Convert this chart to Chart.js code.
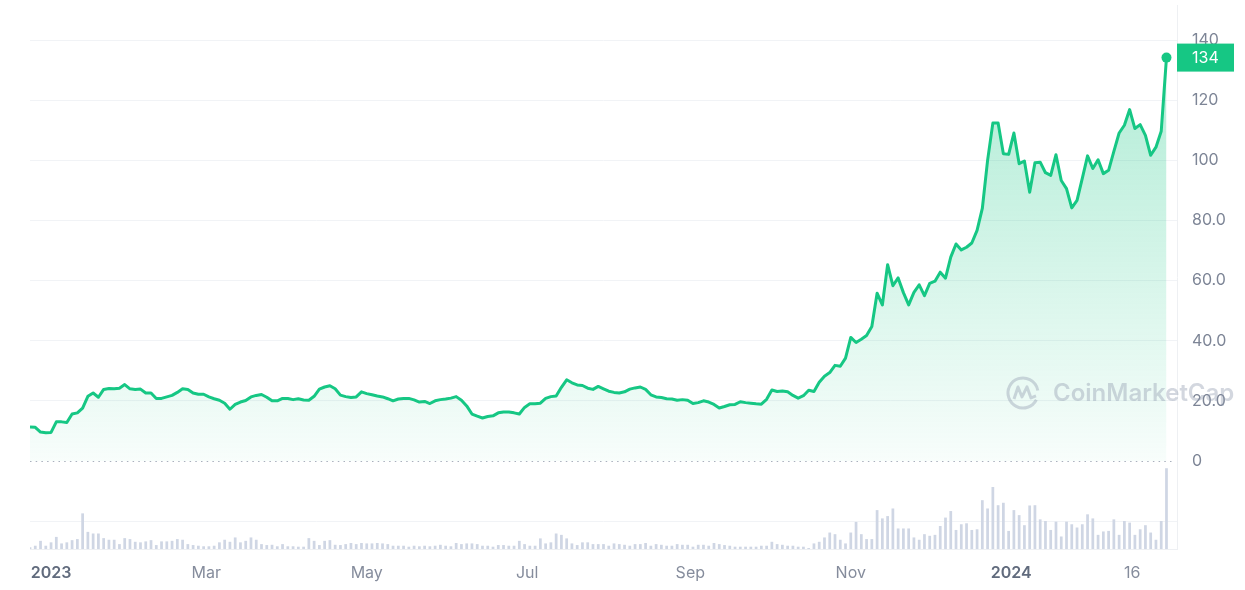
<!DOCTYPE html>
<html>
<head>
<meta charset="utf-8">
<script src="https://cdn.jsdelivr.net/npm/chart.js@4.4.1/dist/chart.umd.min.js"></script>
<style>
  html, body { margin: 0; padding: 0; background: #fff; }
  #wrap { width: 1245px; height: 590px; }
</style>
</head>
<body>
<div id="wrap"><canvas id="priceChart" width="1245" height="590"></canvas></div>
<script>
// days counted from 1 Jan 2023, one sample every 2 days
const startDay = -8;
const stepDays = 2;

// price in USD
const price = [
  11.3, 11.2, 9.6, 9.4, 9.5, 13.0, 13.0, 12.8, 15.6, 16.0,
  17.6, 21.5, 22.6, 21.2, 23.8, 24.1, 24.0, 24.2, 25.4, 24.0,
  23.8, 23.9, 22.6, 22.6, 20.8, 20.8, 21.3, 21.8, 22.8, 24.0,
  23.8, 22.6, 22.2, 22.2, 21.3, 20.7, 20.2, 19.2, 17.2, 18.8,
  19.6, 20.1, 21.3, 21.8, 22.1, 21.2, 20.0, 20.0, 20.8, 20.8,
  20.4, 20.7, 20.3, 20.2, 21.5, 23.9, 24.6, 25.0, 24.0, 21.9,
  21.4, 21.1, 21.3, 23.0, 22.4, 22.0, 21.6, 21.3, 20.7, 20.0,
  20.6, 20.8, 20.8, 20.3, 19.6, 19.8, 19.1, 20.0, 20.4, 20.6,
  20.9, 21.4, 20.2, 18.3, 15.6, 14.9, 14.3, 14.8, 15.0, 16.0,
  16.3, 16.3, 16.0, 15.6, 17.8, 19.0, 19.0, 19.2, 20.8, 21.4,
  21.6, 24.5, 27.0, 26.0, 25.3, 25.1, 24.2, 23.8, 24.8, 24.0,
  23.2, 22.8, 22.6, 23.0, 23.9, 24.3, 24.6, 23.8, 22.0, 21.3,
  21.1, 20.7, 20.6, 20.2, 20.4, 20.2, 19.1, 19.4, 20.0, 19.6,
  18.8, 17.6, 18.1, 18.7, 18.8, 19.7, 19.4, 19.2, 19.0, 18.9,
  20.5, 23.6, 23.1, 23.3, 23.0, 21.8, 20.9, 21.7, 23.5, 23.1,
  26.2, 28.2, 29.4, 31.8, 31.5, 34.2, 41.1, 39.4, 40.5, 41.7,
  44.7, 55.8, 51.9, 65.3, 58.3, 60.9, 56.0, 51.9, 56.1, 58.6,
  55.0, 59.1, 59.8, 62.8, 60.8, 67.8, 72.2, 70.2, 71.1, 72.5,
  76.7, 84.0, 100.0, 112.4, 112.4, 102.2, 102.0, 109.1, 98.9, 99.8,
  89.4, 99.2, 99.4, 95.9, 95.0, 101.9, 93.3, 90.6, 84.2, 86.7,
  94.0, 101.5, 97.3, 100.2, 95.6, 96.7, 103.0, 109.1, 111.7, 116.9,
  110.6, 111.9, 108.3, 101.7, 104.4, 109.7, 134.2
];

// traded volume, USD bn
const volume = [
  0.12, 0.24, 0.60, 0.24, 0.49, 0.89, 0.41, 0.49, 0.65, 0.73,
  2.62, 1.26, 1.14, 1.14, 0.80, 0.68, 0.68, 0.36, 0.80, 0.73,
  0.53, 0.49, 0.56, 0.65, 0.29, 0.56, 0.56, 0.60, 0.73, 0.68,
  0.36, 0.29, 0.24, 0.20, 0.20, 0.24, 0.49, 0.68, 0.53, 0.85,
  0.49, 0.60, 0.85, 0.68, 0.36, 0.29, 0.31, 0.20, 0.36, 0.20,
  0.20, 0.17, 0.17, 0.80, 0.60, 0.29, 0.60, 0.65, 0.31, 0.29,
  0.36, 0.44, 0.36, 0.44, 0.41, 0.41, 0.44, 0.41, 0.36, 0.24,
  0.24, 0.24, 0.17, 0.24, 0.20, 0.24, 0.20, 0.24, 0.31, 0.24,
  0.20, 0.44, 0.36, 0.41, 0.41, 0.36, 0.24, 0.24, 0.17, 0.29,
  0.29, 0.24, 0.24, 0.60, 0.36, 0.24, 0.24, 0.78, 0.41, 0.49,
  1.14, 1.04, 0.78, 0.41, 0.29, 0.49, 0.49, 0.36, 0.36, 0.36,
  0.24, 0.41, 0.36, 0.31, 0.24, 0.36, 0.36, 0.44, 0.24, 0.36,
  0.31, 0.24, 0.24, 0.36, 0.31, 0.31, 0.17, 0.31, 0.31, 0.24,
  0.44, 0.36, 0.29, 0.24, 0.17, 0.17, 0.17, 0.17, 0.17, 0.24,
  0.24, 0.53, 0.36, 0.31, 0.24, 0.24, 0.17, 0.17, 0.07, 0.41,
  0.53, 0.85, 1.21, 1.09, 0.68, 0.41, 1.21, 1.99, 1.09, 0.73,
  0.73, 2.86, 2.25, 2.42, 2.98, 1.51, 1.51, 1.51, 0.85, 0.68,
  1.09, 0.97, 1.04, 1.69, 2.31, 2.79, 1.40, 1.82, 1.89, 1.40,
  1.45, 3.59, 2.98, 4.56, 3.22, 3.40, 1.33, 2.86, 2.49, 1.75,
  3.20, 3.22, 2.18, 2.06, 1.40, 2.01, 0.92, 2.01, 1.82, 1.58,
  1.82, 2.55, 2.25, 1.04, 1.29, 1.33, 2.18, 1.04, 2.06, 1.94,
  1.04, 1.45, 1.75, 1.21, 0.68, 2.06, 5.94
];

const tickDays = [0, 59, 120, 181, 243, 304, 365, 411];
const tickLabels = ['2023', 'Mar', 'May', 'Jul', 'Sep', 'Nov', '2024', '16'];
const priceTicks = [0, 20, 40, 60, 80, 100, 120, 140];
const volumeGrid = [2];

const green = '#16c784';
const fontFamily = 'Inter, "Noto Sans", sans-serif';
const lastIdx = price.length - 1;
const lastDay = startDay + lastIdx * stepDays;

const pricePoints = price.map((v, i) => ({ x: startDay + i * stepDays, y: v }));
const volumePoints = volume.map((v, i) => ({ x: startDay + i * stepDays, y: v }));

// year labels are bold
function isYear(c) {
  if (!c || !c.tick) return false;
  const label = tickLabels[tickDays.indexOf(c.tick.value)];
  return /^\d{4}$/.test(label || '');
}

const overlay = {
  id: 'overlay',
  afterDatasetsDraw(chart) {
    // dotted zero line of the price panel
    const { ctx, chartArea } = chart;
    const y0 = Math.round(chart.scales.y.getPixelForValue(0)) + 0.5;
    ctx.save();
    ctx.strokeStyle = '#a9b0bd';
    ctx.lineWidth = 1;
    ctx.setLineDash([1.5, 4.2]);
    ctx.beginPath();
    ctx.moveTo(chartArea.left, y0);
    ctx.lineTo(chartArea.right - 5, y0);
    ctx.stroke();
    ctx.restore();
  },
  afterDraw(chart) {
    const { ctx, chartArea } = chart;
    const ys = chart.scales.y;

    // watermark
    const wy = ys.getPixelForValue(0) - 68;
    const wx = chartArea.right - 154;
    ctx.save();
    ctx.strokeStyle = 'rgba(140,150,170,0.38)';
    ctx.fillStyle = 'rgba(140,150,170,0.38)';
    ctx.lineWidth = 3;
    ctx.lineJoin = 'round';
    ctx.beginPath();
    ctx.arc(wx, wy, 15, 0.15 * Math.PI, 1.95 * Math.PI);
    ctx.stroke();
    ctx.beginPath();
    ctx.moveTo(wx - 9, wy + 6);
    ctx.lineTo(wx - 5, wy - 6);
    ctx.lineTo(wx - 1, wy + 4);
    ctx.lineTo(wx + 4, wy - 6);
    ctx.lineTo(wx + 8, wy + 5);
    ctx.lineTo(wx + 13, wy + 3);
    ctx.stroke();
    ctx.font = '600 24px ' + fontFamily;
    ctx.textBaseline = 'middle';
    ctx.textAlign = 'left';
    ctx.fillText('CoinMarketCap', wx + 30, wy + 1);
    ctx.restore();

    // last price badge
    const py = ys.getPixelForValue(price[lastIdx]);
    ctx.save();
    ctx.fillStyle = green;
    ctx.fillRect(chartArea.right, py - 14, 57, 28);
    ctx.fillStyle = '#ffffff';
    ctx.font = '16px ' + fontFamily;
    ctx.textBaseline = 'middle';
    ctx.textAlign = 'left';
    ctx.fillText(String(Math.round(price[lastIdx])), chartArea.right + 15, py + 1);
    ctx.restore();
  }
};

const canvas = document.getElementById('priceChart');
new Chart(canvas.getContext('2d'), {
  data: {
    datasets: [
      {
        type: 'line',
        data: pricePoints,
        yAxisID: 'y',
        borderColor: green,
        borderWidth: 3,
        borderJoinStyle: 'round',
        tension: 0,
        fill: 'origin',
        backgroundColor: (c) => {
          const { ctx, chartArea, scales } = c.chart;
          if (!chartArea) return 'rgba(22,199,132,0.1)';
          const g = ctx.createLinearGradient(0, chartArea.top + 100, 0, scales.y.getPixelForValue(0));
          g.addColorStop(0, 'rgba(22,199,132,0.30)');
          g.addColorStop(1, 'rgba(22,199,132,0.03)');
          return g;
        },
        pointRadius: (c) => (c.dataIndex === lastIdx ? 5 : 0),
        pointBackgroundColor: green,
        pointBorderWidth: 0,
        order: 1
      },
      {
        type: 'bar',
        data: volumePoints,
        yAxisID: 'v',
        backgroundColor: '#cfd6e4',
        categoryPercentage: 1,
        barPercentage: 0.52,
        order: 2
      }
    ]
  },
  options: {
    responsive: false,
    animation: false,
    layout: { padding: { left: 30, top: 0, right: 0, bottom: 0 } },
    plugins: { legend: { display: false }, tooltip: { enabled: false } },
    scales: {
      x: {
        type: 'linear',
        min: startDay,
        max: lastDay + 4,
        offset: false,
        grid: { display: false, offset: false },
        border: { display: true, color: '#eef0f3' },
        afterBuildTicks: (s) => { s.ticks = tickDays.map((d) => ({ value: d })); },
        afterFit: (s) => { s.height = 41; s.paddingLeft = 0; s.paddingRight = 0; },
        ticks: {
          autoSkip: false,
          maxRotation: 0,
          padding: 7,
          callback: (v) => tickLabels[tickDays.indexOf(v)],
          color: (c) => (isYear(c) ? '#616b7d' : '#858c9c'),
          font: (c) => ({ family: fontFamily, size: 16, weight: isYear(c) ? '600' : '400' })
        }
      },
      y: {
        position: 'right',
        min: -29.3,
        max: 151.7,
        afterBuildTicks: (s) => { s.ticks = priceTicks.map((v) => ({ value: v })); },
        afterFit: (s) => { s.width = 68; s.paddingTop = 0; s.paddingBottom = 0; },
        grid: {
          drawTicks: false,
          color: (c) => (c.tick && c.tick.value === 0 ? 'rgba(0,0,0,0)' : '#f1f3f6'),
          lineWidth: 1
        },
        border: { display: true, color: '#eef0f3' },
        ticks: {
          padding: 15,
          color: '#7d8596',
          font: { family: fontFamily, size: 16 },
          callback: (v) => (v === 0 ? '0' : v < 100 ? v.toFixed(1) : v.toFixed(0))
        }
      },
      v: {
        position: 'left',
        min: 0,
        max: 40,
        afterBuildTicks: (s) => { s.ticks = volumeGrid.map((v) => ({ value: v })); },
        afterFit: (s) => { s.width = 0; s.paddingTop = 0; s.paddingBottom = 0; },
        grid: { drawTicks: false, color: '#f1f3f6' },
        border: { display: false },
        ticks: { display: false }
      }
    }
  },
  plugins: [overlay]
});
</script>
</body>
</html>
